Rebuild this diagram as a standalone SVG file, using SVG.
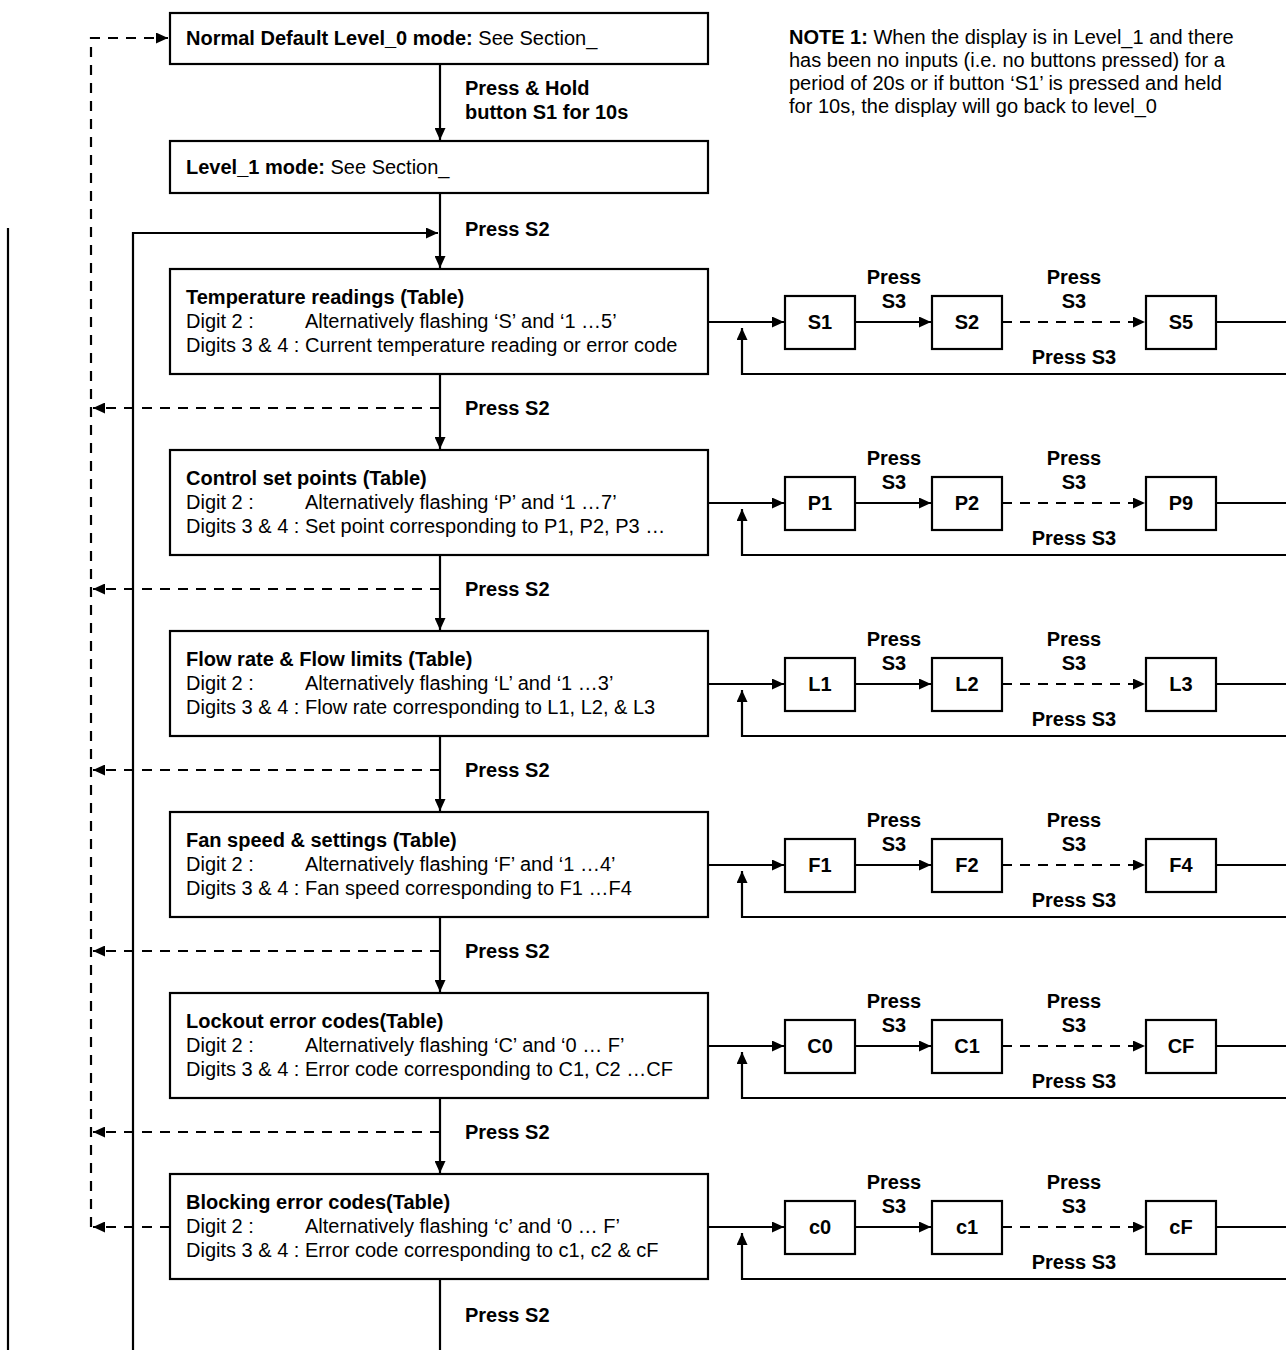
<svg xmlns="http://www.w3.org/2000/svg" width="1286" height="1350" viewBox="0 0 1286 1350">
<style>
  text { font-family: "Liberation Sans", Arial, sans-serif; font-size: 20px; fill: #000; }
  .b { font-weight: bold; }
  .c { text-anchor: middle; }
  .box { fill: #fff; stroke: #000; stroke-width: 2.2; }
  .ln { fill: none; stroke: #000; stroke-width: 2.2; }
  .da { stroke-dasharray: 10 8; }
</style>
<defs>
  <marker id="ah" markerUnits="userSpaceOnUse" markerWidth="13" markerHeight="11" refX="12" refY="5.5" orient="auto">
    <path d="M0,0 L12,5.5 L0,11 z" fill="#000"/>
  </marker>
</defs>

<g id="connectors">
  <path class="ln" d="M8,228 V1350"/>
  <path class="ln da" d="M91,1227 V38 H168" marker-end="url(#ah)"/>
  <path class="ln" d="M440,64 V140" marker-end="url(#ah)"/>
  <path class="ln" d="M440,193 V268" marker-end="url(#ah)"/>
  <path class="ln" d="M133,1350 V233 H438" marker-end="url(#ah)"/>
  <path class="ln" d="M440,374 V449" marker-end="url(#ah)"/>
  <path class="ln" d="M440,555 V630" marker-end="url(#ah)"/>
  <path class="ln" d="M440,736 V811" marker-end="url(#ah)"/>
  <path class="ln" d="M440,917 V992" marker-end="url(#ah)"/>
  <path class="ln" d="M440,1098 V1173" marker-end="url(#ah)"/>
  <path class="ln" d="M440,1279 V1350"/>
  <path class="ln da" d="M440,408 H93" marker-end="url(#ah)"/>
  <path class="ln da" d="M440,589 H93" marker-end="url(#ah)"/>
  <path class="ln da" d="M440,770 H93" marker-end="url(#ah)"/>
  <path class="ln da" d="M440,951 H93" marker-end="url(#ah)"/>
  <path class="ln da" d="M440,1132 H93" marker-end="url(#ah)"/>
  <path class="ln da" d="M170,1227 H93" marker-end="url(#ah)"/>

  <path class="ln" d="M708,322 H784" marker-end="url(#ah)"/>
  <path class="ln" d="M855,322 H931" marker-end="url(#ah)"/>
  <path class="ln da" d="M1002,322 H1145" marker-end="url(#ah)"/>
  <path class="ln" d="M1216,322 H1286"/>
  <path class="ln" d="M1286,374 H742 V328" marker-end="url(#ah)"/>

  <path class="ln" d="M708,503 H784" marker-end="url(#ah)"/>
  <path class="ln" d="M855,503 H931" marker-end="url(#ah)"/>
  <path class="ln da" d="M1002,503 H1145" marker-end="url(#ah)"/>
  <path class="ln" d="M1216,503 H1286"/>
  <path class="ln" d="M1286,555 H742 V509" marker-end="url(#ah)"/>

  <path class="ln" d="M708,684 H784" marker-end="url(#ah)"/>
  <path class="ln" d="M855,684 H931" marker-end="url(#ah)"/>
  <path class="ln da" d="M1002,684 H1145" marker-end="url(#ah)"/>
  <path class="ln" d="M1216,684 H1286"/>
  <path class="ln" d="M1286,736 H742 V690" marker-end="url(#ah)"/>

  <path class="ln" d="M708,865 H784" marker-end="url(#ah)"/>
  <path class="ln" d="M855,865 H931" marker-end="url(#ah)"/>
  <path class="ln da" d="M1002,865 H1145" marker-end="url(#ah)"/>
  <path class="ln" d="M1216,865 H1286"/>
  <path class="ln" d="M1286,917 H742 V871" marker-end="url(#ah)"/>

  <path class="ln" d="M708,1046 H784" marker-end="url(#ah)"/>
  <path class="ln" d="M855,1046 H931" marker-end="url(#ah)"/>
  <path class="ln da" d="M1002,1046 H1145" marker-end="url(#ah)"/>
  <path class="ln" d="M1216,1046 H1286"/>
  <path class="ln" d="M1286,1098 H742 V1052" marker-end="url(#ah)"/>

  <path class="ln" d="M708,1227 H784" marker-end="url(#ah)"/>
  <path class="ln" d="M855,1227 H931" marker-end="url(#ah)"/>
  <path class="ln da" d="M1002,1227 H1145" marker-end="url(#ah)"/>
  <path class="ln" d="M1216,1227 H1286"/>
  <path class="ln" d="M1286,1279 H742 V1233" marker-end="url(#ah)"/>
</g>

<g id="labels">
  <text class="b" x="465" y="95">Press &amp; Hold</text>
  <text class="b" x="465" y="119">button S1 for 10s</text>
  <text class="b" x="465" y="236">Press S2</text>
  <text class="b" x="465" y="415">Press S2</text>
  <text class="b" x="465" y="596">Press S2</text>
  <text class="b" x="465" y="777">Press S2</text>
  <text class="b" x="465" y="958">Press S2</text>
  <text class="b" x="465" y="1139">Press S2</text>
  <text class="b" x="465" y="1322">Press S2</text>
  <g id="row-labels">
    <text class="b c" x="894" y="284">Press</text><text class="b c" x="894" y="308">S3</text>
    <text class="b c" x="1074" y="284">Press</text><text class="b c" x="1074" y="308">S3</text>
    <text class="b c" x="1074" y="364">Press S3</text>
    <text class="b c" x="894" y="465">Press</text><text class="b c" x="894" y="489">S3</text>
    <text class="b c" x="1074" y="465">Press</text><text class="b c" x="1074" y="489">S3</text>
    <text class="b c" x="1074" y="545">Press S3</text>
    <text class="b c" x="894" y="646">Press</text><text class="b c" x="894" y="670">S3</text>
    <text class="b c" x="1074" y="646">Press</text><text class="b c" x="1074" y="670">S3</text>
    <text class="b c" x="1074" y="726">Press S3</text>
    <text class="b c" x="894" y="827">Press</text><text class="b c" x="894" y="851">S3</text>
    <text class="b c" x="1074" y="827">Press</text><text class="b c" x="1074" y="851">S3</text>
    <text class="b c" x="1074" y="907">Press S3</text>
    <text class="b c" x="894" y="1008">Press</text><text class="b c" x="894" y="1032">S3</text>
    <text class="b c" x="1074" y="1008">Press</text><text class="b c" x="1074" y="1032">S3</text>
    <text class="b c" x="1074" y="1088">Press S3</text>
    <text class="b c" x="894" y="1189">Press</text><text class="b c" x="894" y="1213">S3</text>
    <text class="b c" x="1074" y="1189">Press</text><text class="b c" x="1074" y="1213">S3</text>
    <text class="b c" x="1074" y="1269">Press S3</text>
  </g>
</g>

<g id="note">
  <text x="789" y="44"><tspan class="b">NOTE 1:</tspan> When the display is in Level_1 and there</text>
  <text x="789" y="67">has been no inputs (i.e. no buttons pressed) for a</text>
  <text x="789" y="90">period of 20s or if button ‘S1’ is pressed and held</text>
  <text x="789" y="113">for 10s, the display will go back to level_0</text>
</g>

<g id="level0">
  <rect class="box" x="170" y="13" width="538" height="51"/>
  <text x="186" y="45"><tspan class="b">Normal Default Level_0 mode:</tspan> See Section_</text>
</g>
<g id="level1">
  <rect class="box" x="170" y="141" width="538" height="52"/>
  <text x="186" y="174"><tspan class="b">Level_1 mode:</tspan> See Section_</text>
</g>

<g id="temperature">
  <rect class="box" x="170" y="269" width="538" height="105"/>
  <text class="b" x="186" y="304">Temperature readings (Table)</text>
  <text x="186" y="328">Digit 2 :</text><text x="305" y="328">Alternatively flashing ‘S’ and ‘1 …5’</text>
  <text x="186" y="352">Digits 3 &amp; 4 :</text><text x="305" y="352">Current temperature reading or error code</text>
</g>
<g id="control">
  <rect class="box" x="170" y="450" width="538" height="105"/>
  <text class="b" x="186" y="485">Control set points (Table)</text>
  <text x="186" y="509">Digit 2 :</text><text x="305" y="509">Alternatively flashing ‘P’ and ‘1 …7’</text>
  <text x="186" y="533">Digits 3 &amp; 4 :</text><text x="305" y="533">Set point corresponding to P1, P2, P3 …</text>
</g>
<g id="flow">
  <rect class="box" x="170" y="631" width="538" height="105"/>
  <text class="b" x="186" y="666">Flow rate &amp; Flow limits (Table)</text>
  <text x="186" y="690">Digit 2 :</text><text x="305" y="690">Alternatively flashing ‘L’ and ‘1 …3’</text>
  <text x="186" y="714">Digits 3 &amp; 4 :</text><text x="305" y="714">Flow rate corresponding to L1, L2, &amp; L3</text>
</g>
<g id="fan">
  <rect class="box" x="170" y="812" width="538" height="105"/>
  <text class="b" x="186" y="847">Fan speed &amp; settings (Table)</text>
  <text x="186" y="871">Digit 2 :</text><text x="305" y="871">Alternatively flashing ‘F’ and ‘1 …4’</text>
  <text x="186" y="895">Digits 3 &amp; 4 :</text><text x="305" y="895">Fan speed corresponding to F1 …F4</text>
</g>
<g id="lockout">
  <rect class="box" x="170" y="993" width="538" height="105"/>
  <text class="b" x="186" y="1028">Lockout error codes(Table)</text>
  <text x="186" y="1052">Digit 2 :</text><text x="305" y="1052">Alternatively flashing ‘C’ and ‘0 … F’</text>
  <text x="186" y="1076">Digits 3 &amp; 4 :</text><text x="305" y="1076">Error code corresponding to C1, C2 …CF</text>
</g>
<g id="blocking">
  <rect class="box" x="170" y="1174" width="538" height="105"/>
  <text class="b" x="186" y="1209">Blocking error codes(Table)</text>
  <text x="186" y="1233">Digit 2 :</text><text x="305" y="1233">Alternatively flashing ‘c’ and ‘0 … F’</text>
  <text x="186" y="1257">Digits 3 &amp; 4 :</text><text x="305" y="1257">Error code corresponding to c1, c2 &amp; cF</text>
</g>

<g id="S1"><rect class="box" x="785" y="296" width="70" height="53"/><text class="b c" x="820" y="329">S1</text></g>
<g id="S2"><rect class="box" x="932" y="296" width="70" height="53"/><text class="b c" x="967" y="329">S2</text></g>
<g id="S5"><rect class="box" x="1146" y="296" width="70" height="53"/><text class="b c" x="1181" y="329">S5</text></g>
<g id="P1"><rect class="box" x="785" y="477" width="70" height="53"/><text class="b c" x="820" y="510">P1</text></g>
<g id="P2"><rect class="box" x="932" y="477" width="70" height="53"/><text class="b c" x="967" y="510">P2</text></g>
<g id="P9"><rect class="box" x="1146" y="477" width="70" height="53"/><text class="b c" x="1181" y="510">P9</text></g>
<g id="L1"><rect class="box" x="785" y="658" width="70" height="53"/><text class="b c" x="820" y="691">L1</text></g>
<g id="L2"><rect class="box" x="932" y="658" width="70" height="53"/><text class="b c" x="967" y="691">L2</text></g>
<g id="L3"><rect class="box" x="1146" y="658" width="70" height="53"/><text class="b c" x="1181" y="691">L3</text></g>
<g id="F1"><rect class="box" x="785" y="839" width="70" height="53"/><text class="b c" x="820" y="872">F1</text></g>
<g id="F2"><rect class="box" x="932" y="839" width="70" height="53"/><text class="b c" x="967" y="872">F2</text></g>
<g id="F4"><rect class="box" x="1146" y="839" width="70" height="53"/><text class="b c" x="1181" y="872">F4</text></g>
<g id="C0"><rect class="box" x="785" y="1020" width="70" height="53"/><text class="b c" x="820" y="1053">C0</text></g>
<g id="C1"><rect class="box" x="932" y="1020" width="70" height="53"/><text class="b c" x="967" y="1053">C1</text></g>
<g id="CF"><rect class="box" x="1146" y="1020" width="70" height="53"/><text class="b c" x="1181" y="1053">CF</text></g>
<g id="c0"><rect class="box" x="785" y="1201" width="70" height="53"/><text class="b c" x="820" y="1234">c0</text></g>
<g id="c1"><rect class="box" x="932" y="1201" width="70" height="53"/><text class="b c" x="967" y="1234">c1</text></g>
<g id="cF"><rect class="box" x="1146" y="1201" width="70" height="53"/><text class="b c" x="1181" y="1234">cF</text></g>
</svg>
